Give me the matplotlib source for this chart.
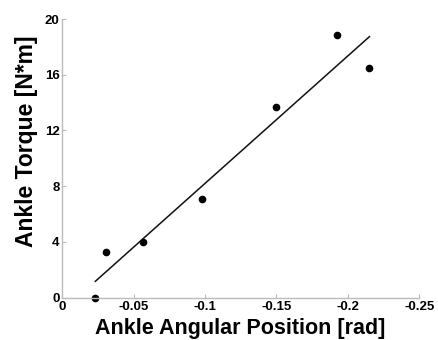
import numpy as np
import matplotlib
matplotlib.use("Agg")
import matplotlib.pyplot as plt

# Data
angle = [-0.0232, -0.0310, -0.0563, -0.0976, -0.1497, -0.1922, -0.2152]
torque = [0.0, 3.25, 3.96, 7.07, 13.67, 18.87, 16.49]

x_ticks = [0, -0.05, -0.1, -0.15, -0.2, -0.25]
x_tick_labels = ["0", "-0.05", "-0.1", "-0.15", "-0.2", "-0.25"]
y_ticks = [0, 4, 8, 12, 16, 20]
y_tick_labels = ["0", "4", "8", "12", "16", "20"]

plt.rcParams['font.family'] = ['Liberation Sans', 'DejaVu Sans']

fig = plt.figure(figsize=(4.38, 3.40), dpi=100)
ax_left, ax_bottom, ax_w, ax_h = 0.142, 0.125, 0.815, 0.819
ax = fig.add_axes([ax_left, ax_bottom, ax_w, ax_h])

# linear fit
coef = np.polyfit(angle, torque, 1)
xf = np.array([min(angle), max(angle)])
ax.plot(xf, np.polyval(coef, xf), color='#111111', lw=1.1)
ax.plot(angle, torque, 'o', color='black', ms=4.5, clip_on=False)

ax.set_xlim(0, -0.25)
ax.set_ylim(0, 20)
ax.set_xticks(x_ticks)
ax.set_xticklabels(x_tick_labels)
ax.set_yticks(y_ticks)
ax.set_yticklabels(y_tick_labels)

for s in ['top', 'right']:
    ax.spines[s].set_visible(False)
for s in ['left', 'bottom']:
    ax.spines[s].set_color('#bbbbbb')
    ax.spines[s].set_linewidth(1.0)

ax.tick_params(direction='in', length=3, width=0.8, color='#bbbbbb',
               labelsize=9.5)
ax.tick_params(axis='x', pad=2.5)
ax.tick_params(axis='y', pad=2)
for lab in ax.get_xticklabels() + ax.get_yticklabels():
    lab.set_fontweight('bold')

ax.set_xlabel('Ankle Angular Position [rad]', fontsize=15.5, fontweight='bold')
ax.xaxis.label.set_va('bottom')
ax.xaxis.set_label_coords(ax_left + ax_w / 2, 0.002, transform=fig.transFigure)
ax.set_ylabel('Ankle Torque [N*m]', fontsize=16.5, fontweight='bold')
ax.yaxis.set_label_coords(-0.068, 0.561)

fig.savefig('out.png', dpi=100)
